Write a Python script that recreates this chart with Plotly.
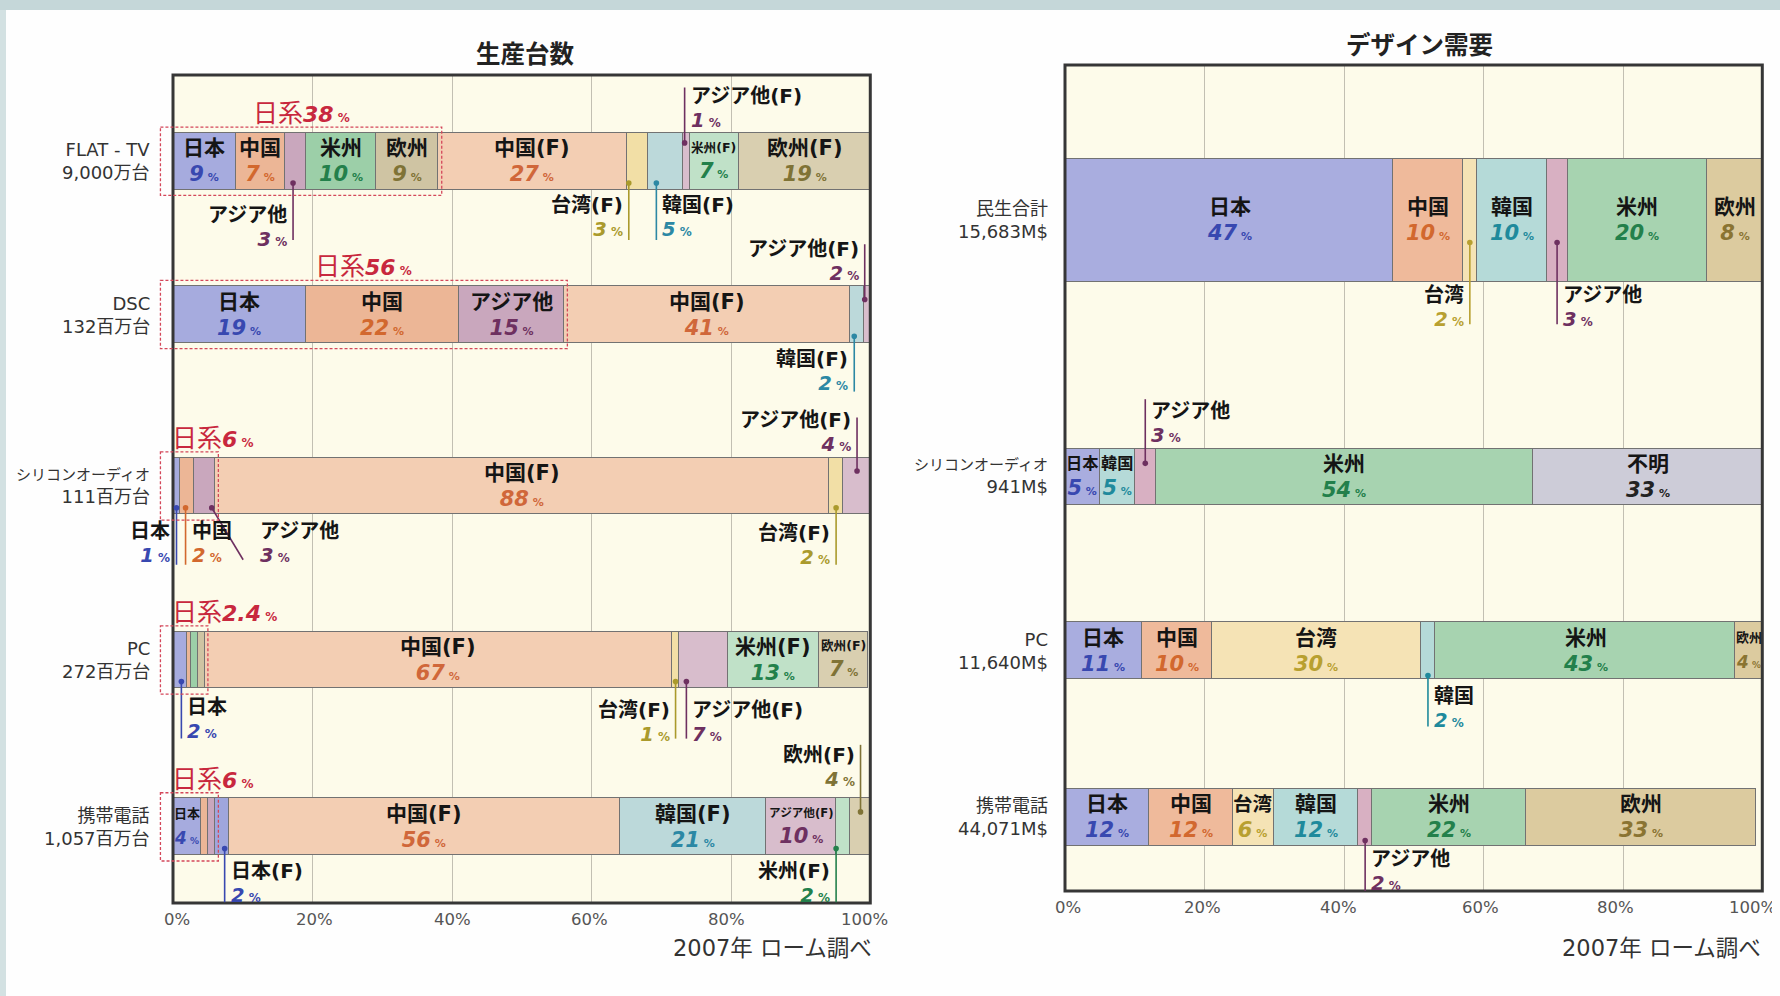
import plotly.graph_objects as go

# ---------------- data ----------------
L_CATS = ["FLAT - TV", "DSC", "シリコンオーディオ", "PC", "携帯電話"]
L_UNITS = ["9,000万台", "132百万台", "111百万台", "272百万台", "1,057百万台"]
L_SERIES = ["日本", "中国", "アジア他", "米州", "欧州", "日本(F)", "中国(F)",
            "台湾(F)", "韓国(F)", "アジア他(F)", "米州(F)", "欧州(F)"]
L_JP = [9, 19, 1, 2, 4]
L_CN = [7, 22, 2, 0.5, 1]
L_AS = [3, 15, 3, None, 1]
L_US = [10, None, None, 1, None]
L_EU = [9, None, None, 1, None]
L_JPF = [None, None, None, None, 2]
L_CNF = [27, 41, 88, 67, 56]
L_TWF = [3, None, 2, 1, None]
L_KRF = [5, 2, None, None, 21]
L_ASF = [1, 2, 4, 7, 10]
L_USF = [7, None, None, 13, 2]
L_EUF = [19, None, None, 7, 4]
L_NIKKEI = [38, 56, 6, 2.4, 6]

R_CATS = ["民生合計", "シリコンオーディオ", "PC", "携帯電話"]
R_UNITS = ["15,683M$", "941M$", "11,640M$", "44,071M$"]
R_SERIES = ["日本", "中国", "台湾", "韓国", "アジア他", "米州", "欧州", "不明"]
R_JP = [47, 5, 11, 12]
R_CN = [10, None, 10, 12]
R_TW = [2, None, 30, 6]
R_KR = [10, 5, 2, 12]
R_AS = [3, 3, None, 2]
R_US = [20, 54, 43, 22]
R_EU = [8, None, 4, 33]
R_UK = [None, 33, None, None]

TICK_VALS = [0, 20, 40, 60, 80, 100]
TICK_TEXT = ["0%", "20%", "40%", "60%", "80%", "100%"]
TITLE_L = "生産台数"
TITLE_R = "デザイン需要"
SOURCE = "2007年 ローム調べ"

L_VALUES = [L_JP, L_CN, L_AS, L_US, L_EU, L_JPF, L_CNF, L_TWF, L_KRF, L_ASF, L_USF, L_EUF]
R_VALUES = [R_JP, R_CN, R_TW, R_KR, R_AS, R_US, R_EU, R_UK]

# ---------------- styles ----------------
FONT = "DejaVu Sans, Noto Sans CJK JP"
CREAM = "#fdfbea"
GRID = "#c2bfb2"
FRAME = "#363636"
BAR_LINE = "#727272"
RED = "#c8283e"

L_COLORS = {"日本": "#a6abde", "中国": "#ecb696", "アジア他": "#c9a7bd", "米州": "#9ccfa8",
            "欧州": "#cfc4a3", "日本(F)": "#9fa6dc", "中国(F)": "#f3ceb3", "台湾(F)": "#f2dfa6",
            "韓国(F)": "#bcd9da", "アジア他(F)": "#d8bdcc", "米州(F)": "#c0e1c8", "欧州(F)": "#d9cfb0"}
L_TCOL = {"日本": "#3848b0", "中国": "#d2682e", "アジア他": "#6e3060", "米州": "#23804b",
          "欧州": "#7f7336", "日本(F)": "#3848b0", "中国(F)": "#d0673a", "台湾(F)": "#aa9a2c",
          "韓国(F)": "#2c88a4", "アジア他(F)": "#6e3060", "米州(F)": "#23804b", "欧州(F)": "#7f7336"}
R_COLORS = {"日本": "#a9addf", "中国": "#efba9b", "台湾": "#f5e3b5", "韓国": "#b5dad8",
            "アジア他": "#d8b0c2", "米州": "#a7d3b0", "欧州": "#dccb9f", "不明": "#cdccd8"}
R_TCOL = {"日本": "#3848b0", "中国": "#d2682e", "台湾": "#b8a030", "韓国": "#1f8a9c",
          "アジア他": "#6e3060", "米州": "#23804b", "欧州": "#8a7432", "不明": "#222222"}

# figure placed on the page after the body's default 8px margin
FW, FH = 1772, 980
AX, BX = 8.0, float(FW)


def px(X):
    return min(1.0, max(0.0, (X - AX) / BX))


def py(Y):
    return 1 - (Y - 8) / FH


# plot frames in target pixels
L_FRAME = (173, 871, 75, 903)
R_FRAME = (1065, 1763, 65, 891)
L_XR = [-2.6, 100]
R_XR = [0, 100]
L_YR = [4.465, -0.474]
R_YR = [3.433, -1.42]
L_WID = [0.339] * 5
L_OFF = [-0.129, -0.2145, -0.1915, -0.1545, -0.1585]
R_WID = [0.72, 0.333, 0.333, 0.333]
R_OFF = [-0.867, -0.1665, -0.1465, -0.1665]
# where the percent labels sit under each axis (pulled slightly inward like the original)
L_TICKLABEL_POS = [0.6, 20.3, 40.1, 59.7, 79.3, 99.0]
R_TICKLABEL_POS = [0.5, 19.7, 39.2, 59.5, 78.9, 98.5]

# callouts: (cat, series, side, align, length, pos in segment, dot inset, dx line end, label dx, label gap)
L_CALLOUTS = [
    (0, "アジア他", "below", "right", 0.30, 0.4, 0.04, 0, 0, 0.07),
    (0, "台湾(F)", "below", "right", 0.30, 0.1, 0.04, 0, 0, 0.015),
    (0, "韓国(F)", "below", "left", 0.30, 0.25, 0.04, 0, 0, 0.015),
    (0, "アジア他(F)", "above", "left", 0.27, 0.3, 0.06, 0, 0, 0.0),
    (1, "アジア他(F)", "above", "right", 0.25, 0.1, 0.08, 0, 0, 0.0),
    (1, "韓国(F)", "below", "right", 0.29, 0.3, 0.04, 0, 0, 0.015),
    (2, "アジア他(F)", "above", "right", 0.24, 0.5, 0.08, 0, 0, 0.0),
    (2, "日本", "below", "right", 0.30, 0.5, 0.04, 0, 0, 0.02),
    (2, "中国", "below", "left", 0.30, 0.4, 0.04, 0, 0, 0.02),
    (2, "アジア他", "below", "left", 0.27, 0.85, 0.04, 4.5, 1.5, 0.02),
    (2, "台湾(F)", "below", "right", 0.30, 0.5, 0.04, 0, 0, 0.03),
    (3, "日本", "below", "left", 0.30, 0.6, 0.04, 0, 0, 0.035),
    (3, "台湾(F)", "below", "right", 0.30, 0.5, 0.04, 0, 0, 0.05),
    (3, "アジア他(F)", "below", "left", 0.30, 0.15, 0.04, 0, 0, 0.05),
    (4, "欧州(F)", "above", "right", 0.32, 0.5, 0.08, 0, 0, 0.04),
    (4, "日本(F)", "below", "left", 0.28, 0.7, 0.04, 0, 0, 0.015),
    (4, "米州(F)", "below", "right", 0.28, 0.0, 0.04, 0, 0, 0.015),
]
R_CALLOUTS = [
    (0, "台湾", "below", "right", 0.25, 0.5, 0.23, 0, 0, 0.0),
    (0, "アジア他", "below", "left", 0.25, 0.5, 0.23, 0, 0, 0.0),
    (1, "アジア他", "above", "left", 0.29, 0.5, 0.087, 0, 0, 0.0),
    (2, "韓国", "below", "left", 0.28, 0.5, 0.02, 0, 0, 0.025),
    (3, "アジア他", "below", "left", 0.27, 0.5, 0.03, 0, 0, 0.0),
]


def em_width(s):
    w = 0.0
    for c in s:
        if ord(c) > 0x2E80:
            w += 1.0
        elif c in "()":
            w += 0.46
        elif c == " ":
            w += 0.32
        else:
            w += 0.70
    return w


def pct_html(v, size, small=12):
    return (f"<span style='font-size:{size:.1f}px'><b><i>{v:g}</i></b></span>"
            f"<span style='font-size:{small}px'><b> %</b></span>")


fig = go.Figure()
shapes = []
annos = []


def build(series, values, cats, colors, tcols, xa, ya, xr, frame, wid, off, callouts,
          tick_pos, nikkei=None):
    x0p, x1p, y0p, y1p = frame
    ppu0 = (x1p - x0p) / 100.0
    left_px = x0p + xr[0] * ppu0
    xdom = [px(left_px), px(x1p)]
    ydom = [py(y1p), py(y0p)]
    pic_w = (xdom[1] - xdom[0]) * BX
    ppu = pic_w / (xr[1] - xr[0])
    axn = xa.replace("x", "")
    fig.layout["xaxis" + axn] = dict(
        domain=xdom, range=xr, tickmode="array", tickvals=TICK_VALS, showticklabels=False,
        showgrid=True, gridcolor=GRID, gridwidth=1.3, zeroline=False, showline=False, ticks="",
        fixedrange=True, anchor=ya)
    fig.layout["yaxis" + axn] = dict(domain=ydom, type="category", categoryarray=cats,
                                     categoryorder="array", showticklabels=False, showgrid=False,
                                     zeroline=False, showline=False, fixedrange=True, anchor=xa)
    # percent labels under the axis
    for tp, tt in zip(tick_pos, TICK_TEXT):
        annos.append(dict(xref=xa, yref="paper", x=tp, y=ydom[0], text=tt, showarrow=False,
                          font=dict(family="DejaVu Sans", size=16.5, color="#555555"),
                          xanchor="center", yanchor="top", yshift=-5))
    for name, vals in zip(series, values):
        fig.add_trace(go.Bar(orientation="h", y=cats, x=vals, name=name, width=wid, offset=off,
                             marker=dict(color=colors[name], line=dict(color=BAR_LINE, width=1.1)),
                             xaxis=xa, yaxis=ya, showlegend=False, hoverinfo="skip"))
    fx0 = (0 - xr[0]) / (xr[1] - xr[0])
    shapes.append(dict(type="rect", xref=xa + " domain", yref=ya + " domain", x0=fx0, x1=1, y0=0, y1=1,
                       fillcolor=CREAM, line=dict(width=0), layer="below"))
    shapes.append(dict(type="rect", xref=xa + " domain", yref=ya + " domain", x0=fx0, x1=0.999, y0=0, y1=1,
                       fillcolor="rgba(0,0,0,0)", line=dict(color=FRAME, width=3), layer="above"))
    segs = {}
    for i in range(len(cats)):
        cum = 0.0
        for name, vals in zip(series, values):
            v = vals[i]
            if v is None:
                continue
            segs[(i, name)] = (cum, cum + v, v)
            cum += v
    co_keys = {(c[0], c[1]) for c in callouts}
    for (i, name), (s, e, v) in segs.items():
        if (i, name) in co_keys or v < 4:
            continue
        e2 = min(e, 100)
        seg_px = (e2 - s) * ppu
        nsize = min(21.0, 0.93 * seg_px / em_width(name))
        vsize = min(21.0, 0.9 * seg_px / (em_width(f"{v:g}") + 0.8))
        yc = i + off[i] + wid[i] / 2
        txt = (f"<span style='font-size:{nsize:.1f}px'><b>{name}</b></span><br>"
               f"<span style='color:{tcols[name]}'>{pct_html(v, vsize, small=max(9, int(vsize * 0.55)))}</span>")
        annos.append(dict(xref=xa, yref=ya, x=(s + e2) / 2, y=yc, text=txt, showarrow=False,
                          font=dict(family=FONT, size=20, color="#151515"), align="center",
                          xanchor="center", yanchor="middle"))
    for (i, name, side, align, length, pos, inset, dx, ldx, gap) in callouts:
        s, e, v = segs[(i, name)]
        xline = s + pos * (min(e, 100) - s)
        top = i + off[i]
        bot = i + off[i] + wid[i]
        col = tcols[name]
        if side == "below":
            ydot, yend = bot - inset, bot + length
            ylab, yanc = bot - 0.005 + gap, "top"
        else:
            ydot, yend = top + inset, top - length
            ylab, yanc = top + 0.005 - gap, "bottom"
        shapes.append(dict(type="line", xref=xa, yref=ya, x0=xline, x1=xline + dx, y0=ydot, y1=yend,
                           line=dict(color=col, width=1.6), layer="above"))
        shapes.append(dict(type="circle", xref=xa, yref=ya, xsizemode="pixel", ysizemode="pixel",
                           xanchor=xline, yanchor=ydot, x0=-2.8, x1=2.8, y0=-2.8, y1=2.8,
                           fillcolor=col, line=dict(width=0), layer="above"))
        txt = (f"<span style='font-size:20px'><b>{name}</b></span><br>"
               f"<span style='color:{col}'>{pct_html(v, 19.5)}</span>")
        annos.append(dict(xref=xa, yref=ya, x=xline + dx + ldx, y=ylab, text=txt, showarrow=False,
                          font=dict(family=FONT, size=18.5, color="#151515"), align=align,
                          xanchor=align, yanchor=yanc, xshift=(-4 if align == "right" else 4)))
    if nikkei is not None:
        for i, tot in enumerate(nikkei):
            gend = 0.0
            for name, vals in zip(series[:5], values[:5]):
                if vals[i] is not None:
                    gend += vals[i]
            bx0, bx1 = -1.8, gend + 0.5
            by0, by1 = i + off[i] - 0.034, i + off[i] + wid[i] + 0.034
            shapes.append(dict(type="rect", xref=xa, yref=ya, x0=bx0, x1=bx1, y0=by0, y1=by1,
                               line=dict(color="#d4475a", width=1.3, dash="3px,2px"),
                               fillcolor="rgba(0,0,0,0)", layer="above"))
            txt = (f"日系<span style='font-size:22px'><b><i>{tot:g}</i></b></span>"
                   f"<span style='font-size:12px'><b> %</b></span>")
            if gend > 15:
                ax, anc = (bx0 + bx1) / 2, "center"
            else:
                ax, anc = -0.4, "left"
            annos.append(dict(xref=xa, yref=ya, x=ax, y=by0, text=txt, showarrow=False,
                              font=dict(family=FONT, size=25, color=RED), xanchor=anc,
                              yanchor="bottom", yshift=-3))
    return segs


build(L_SERIES, L_VALUES, L_CATS, L_COLORS, L_TCOL, "x", "y", L_XR, L_FRAME, L_WID, L_OFF,
      L_CALLOUTS, L_TICKLABEL_POS, nikkei=L_NIKKEI)
build(R_SERIES, R_VALUES, R_CATS, R_COLORS, R_TCOL, "x2", "y2", R_XR, R_FRAME, R_WID, R_OFF,
      R_CALLOUTS, R_TICKLABEL_POS)
fig.layout.yaxis.range = L_YR
fig.layout.yaxis2.range = R_YR


def cat_label(c, u):
    fs = 18 if em_width(c) < 7 else 15
    return f"<span style='font-size:{fs}px'>{c}</span><br>{u}"


for i, (c, u) in enumerate(zip(L_CATS, L_UNITS)):
    annos.append(dict(xref="paper", yref="y", x=px(152), y=i + L_OFF[i] + L_WID[i] / 2,
                      text=cat_label(c, u), showarrow=False,
                      font=dict(family=FONT, size=18, color="#333333"), align="right",
                      xanchor="right", yanchor="middle"))
for i, (c, u) in enumerate(zip(R_CATS, R_UNITS)):
    annos.append(dict(xref="paper", yref="y2", x=px(1050), y=i + R_OFF[i] + R_WID[i] / 2,
                      text=cat_label(c, u), showarrow=False,
                      font=dict(family=FONT, size=18, color="#333333"), align="right",
                      xanchor="right", yanchor="middle"))

annos.append(dict(xref="paper", yref="paper", x=px(525), y=py(54), text=f"<b>{TITLE_L}</b>",
                  showarrow=False, font=dict(family=FONT, size=24.5, color="#222222"),
                  xanchor="center", yanchor="middle"))
annos.append(dict(xref="paper", yref="paper", x=px(1419), y=py(45), text=f"<b>{TITLE_R}</b>",
                  showarrow=False, font=dict(family=FONT, size=24.5, color="#222222"),
                  xanchor="center", yanchor="middle"))
for xr_ in (874, 1763):
    annos.append(dict(xref="paper", yref="paper", x=px(xr_), y=py(948), text=SOURCE,
                      showarrow=False, font=dict(family=FONT, size=22.5, color="#333333"),
                      xanchor="right", yanchor="middle"))

shapes.append(dict(type="rect", xref="paper", yref="paper", x0=0, x1=1, y0=py(10), y1=1,
                   fillcolor="#c5d7d9", line=dict(width=0), layer="below"))

fig.update_layout(width=FW, height=FH, margin=dict(l=0, r=0, t=0, b=0), barmode="stack",
                  paper_bgcolor="#fefefe", plot_bgcolor="rgba(0,0,0,0)", bargap=0,
                  shapes=shapes, annotations=annos, showlegend=False,
                  font=dict(family=FONT))

fig.write_html("out.html", config={"displayModeBar": False},
               post_script=("document.body.style.background="
                            "'linear-gradient(to bottom,#c5d7d9 0px,#c5d7d9 10px,rgba(0,0,0,0) 10px),"
                            "linear-gradient(to right,#d3e1e2 0px,#d3e1e2 6px,#fefefe 6px)';"))
